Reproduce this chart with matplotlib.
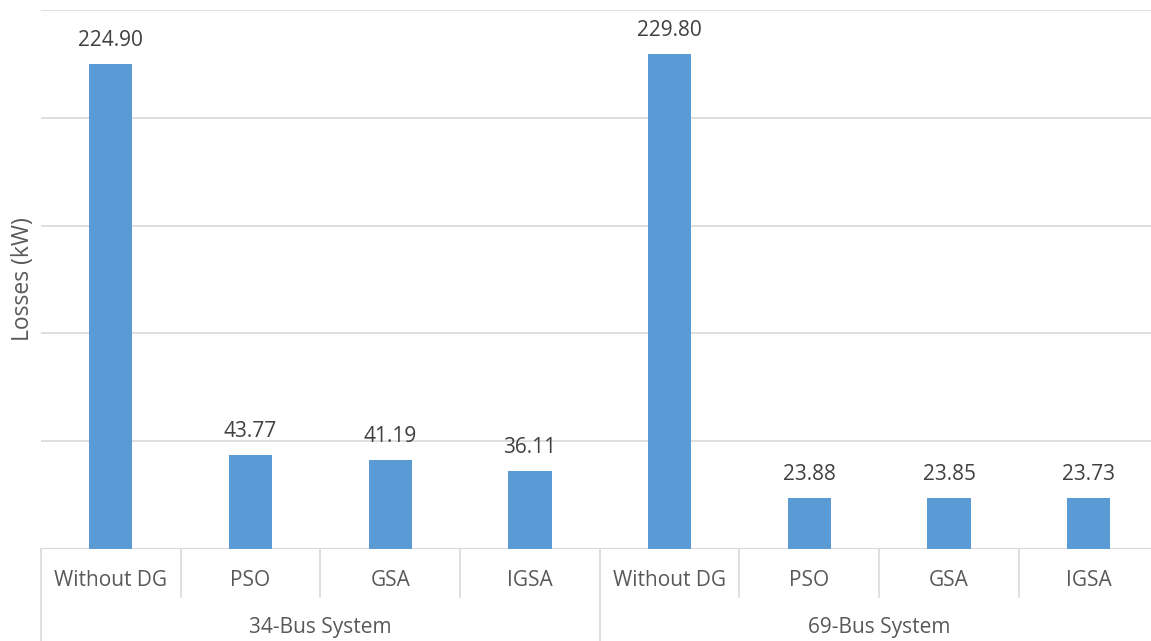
import matplotlib.pyplot as plt
import matplotlib.transforms as mtransforms

# Data
groups = ["34-Bus System", "69-Bus System"]
methods = ["Without DG", "PSO", "GSA", "IGSA"]
losses_34 = [224.90, 43.77, 41.19, 36.11]
losses_69 = [229.80, 23.88, 23.85, 23.73]

values = losses_34 + losses_69
labels = methods + methods

plt.rcParams['font.family'] = ['Open Sans', 'DejaVu Sans']

fig = plt.figure(figsize=(11.51, 6.41), dpi=100)
ax = fig.add_axes([0.0356, 0.1435, 0.971, 0.8409])

x = list(range(len(values)))
bars = ax.bar(x, values, width=0.31, color='#5B9BD5', zorder=3)

# value labels above bars
for xi, v in zip(x, values):
    ax.text(xi, v + 6, f"{v:.2f}", ha='center', va='bottom',
            fontsize=15, color='#404040')

ax.set_xlim(-0.5, 7.5)
ax.set_ylim(0, 250)
ax.set_yticks(range(0, 251, 50))
ax.yaxis.grid(True, color='#d9d9d9', linewidth=1.2, zorder=0)
ax.tick_params(left=False, bottom=False, labelleft=False, labelbottom=False)
for s in ax.spines.values():
    s.set_visible(False)
ax.axhline(0, color='#d9d9d9', linewidth=1.5, zorder=2)

# category axis with separators
trans = mtransforms.blended_transform_factory(ax.transData, ax.transAxes)
for i in range(len(values) + 1):
    xs = i - 0.5
    bottom = -0.171 if i % 4 == 0 else -0.089
    ax.plot([xs, xs], [0, bottom], transform=trans, color='#d9d9d9',
            linewidth=1.2, clip_on=False)
for xi, lab in zip(x, labels):
    ax.text(xi, -0.0575, lab, transform=trans, ha='center', va='center',
            fontsize=15, color='#595959')
for gi, g in enumerate(groups):
    ax.text(gi * 4 + 1.5, -0.1447, g, transform=trans, ha='center',
            va='center', fontsize=15, color='#595959')

ax.set_ylabel("Losses (kW)", fontsize=16.5, color='#595959')
ax.yaxis.set_label_coords(-0.005, 0.5)

fig.savefig("out.png", dpi=100)
